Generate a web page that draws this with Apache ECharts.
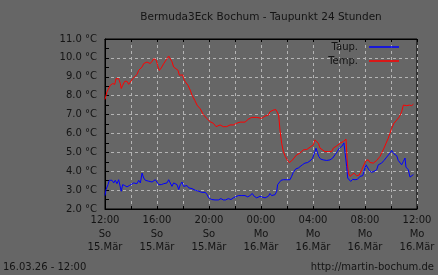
<!DOCTYPE html>
<html>
<head>
<meta charset="utf-8">
<script src="https://cdn.jsdelivr.net/npm/echarts@6/dist/echarts.min.js"></script>
<style>
html,body{margin:0;padding:0;background:#666666;}
#chart{width:438px;height:275px;}
</style>
</head>
<body>
<div id="chart"></div>
<script>
// Hours since 15.Mär 12:00
var tempHours = [0,0.15,0.41,0.59,0.75,0.85,0.92,1.05,1.18,1.25,1.36,1.52,1.69,1.82,1.95,2.13,2.28,2.46,2.59,2.72,2.85,2.98,3.1,3.23,3.36,3.48,3.62,3.75,3.87,3.95,4.08,4.18,4.33,4.52,4.64,4.77,4.9,5.02,5.15,5.28,5.41,5.62,5.72,5.87,5.98,6.05,6.18,6.38,6.56,6.69,6.9,7.08,7.33,7.56,7.82,8.08,8.33,8.54,8.85,9.1,9.36,9.62,9.87,10.13,10.38,10.77,11.02,11.28,11.41,11.67,12.05,12.31,12.56,12.69,12.95,13.15,13.25,13.36,13.46,13.59,13.72,13.87,14.02,14.18,14.36,14.54,14.75,15.0,15.25,15.52,15.77,16.02,16.15,16.28,16.41,16.54,16.67,16.92,17.18,17.44,17.56,17.82,18.08,18.33,18.46,18.54,18.64,18.72,18.85,18.98,19.15,19.36,19.56,19.75,19.92,20.08,20.25,20.38,20.64,20.9,21.15,21.28,21.46,21.62,21.79,21.92,22.05,22.23,22.44,22.64,22.82,22.95,23.08,23.21,23.41,23.59,23.72];
var tempValues = [7.8,8.2,8.55,8.64,8.6,8.9,8.99,8.9,8.64,8.38,8.55,8.76,8.76,8.6,8.7,8.9,8.85,9.12,9.34,9.25,9.52,9.7,9.6,9.78,9.75,9.7,9.82,9.96,10.04,9.87,9.52,9.34,9.47,9.7,9.75,9.96,10.1,10.1,9.8,9.52,9.43,9.34,9.08,9.05,9.1,8.9,8.73,8.55,8.29,8.03,7.76,7.5,7.3,7.0,6.8,6.62,6.54,6.36,6.45,6.36,6.36,6.45,6.45,6.54,6.6,6.6,6.75,6.85,6.92,6.85,6.8,6.92,6.97,7.15,7.24,7.26,7.33,6.97,6.18,5.48,5.04,4.78,4.6,4.46,4.55,4.7,4.87,4.96,5.13,5.15,5.27,5.39,5.66,5.7,5.48,5.22,5.13,5.04,5.04,5.04,5.22,5.34,5.48,5.57,5.66,5.7,4.43,3.9,3.73,3.8,3.9,3.76,3.8,4.08,4.34,4.57,4.6,4.46,4.43,4.57,4.78,4.96,5.22,5.48,5.75,6.01,6.27,6.54,6.71,6.88,7.15,7.5,7.55,7.47,7.5,7.47,7.55];
var dewHours = [0,0.08,0.23,0.33,0.54,0.67,0.79,0.92,1.05,1.18,1.25,1.36,1.52,1.69,1.87,2.02,2.21,2.33,2.46,2.59,2.72,2.85,2.98,3.1,3.23,3.36,3.48,3.62,3.75,3.87,4.0,4.13,4.33,4.52,4.64,4.77,4.9,5.02,5.15,5.28,5.41,5.54,5.67,5.79,5.92,6.05,6.18,6.31,6.44,6.56,6.69,6.82,6.95,7.08,7.21,7.33,7.46,7.59,7.72,7.85,7.98,8.1,8.21,8.46,8.72,8.92,9.1,9.28,9.48,9.69,9.87,10.0,10.25,10.52,10.77,10.98,11.15,11.33,11.48,11.67,11.79,11.92,12.05,12.31,12.56,12.69,12.82,13.08,13.21,13.28,13.38,13.54,13.72,13.98,14.23,14.36,14.48,14.67,14.87,15.0,15.18,15.38,15.59,15.77,15.96,16.15,16.23,16.33,16.44,16.59,16.79,17.05,17.31,17.52,17.69,17.87,18.02,18.21,18.38,18.48,18.59,18.67,18.79,18.9,19.05,19.23,19.41,19.62,19.82,19.92,20.08,20.18,20.33,20.52,20.69,20.9,21.02,21.28,21.46,21.67,21.87,22.05,22.23,22.44,22.56,22.69,22.82,22.95,23.08,23.15,23.25,23.33,23.46,23.59,23.72];
var dewValues = [2.71,3.03,3.29,3.52,3.52,3.38,3.52,3.34,3.55,3.47,2.94,3.29,3.24,3.17,3.24,3.17,3.38,3.47,3.34,3.52,3.38,3.9,3.64,3.52,3.59,3.47,3.55,3.43,3.52,3.55,3.47,3.29,3.29,3.34,3.24,3.38,3.55,3.47,3.2,3.38,3.43,3.29,3.03,3.29,3.43,3.2,3.12,3.24,3.12,3.2,3.08,3.12,2.99,2.94,2.94,2.85,2.88,2.85,2.88,2.76,2.59,2.54,2.5,2.48,2.48,2.55,2.48,2.48,2.55,2.5,2.59,2.67,2.71,2.71,2.71,2.64,2.71,2.82,2.67,2.59,2.64,2.67,2.59,2.59,2.67,2.82,2.71,2.76,2.94,3.29,3.38,3.52,3.55,3.55,3.55,3.73,3.94,4.12,4.17,4.22,4.34,4.43,4.46,4.55,4.67,5.04,5.22,5.13,4.78,4.64,4.6,4.57,4.6,4.7,4.87,5.04,5.22,5.31,5.5,5.5,4.25,3.64,3.55,3.46,3.57,3.55,3.57,3.73,3.76,3.99,4.34,4.25,4.04,3.94,3.99,4.08,4.34,4.43,4.57,4.75,4.92,5.1,4.92,4.82,4.57,4.6,4.34,4.52,4.7,4.22,4.22,4.08,3.69,3.69,3.82];

var tickHours = [0,4,8,12,16,20,24];
var tickTimes = ['12:00','16:00','20:00','00:00','04:00','08:00','12:00'];
var tickDays = ['So','So','So','Mo','Mo','Mo','Mo'];
var tickDates = ['15.Mär','15.Mär','15.Mär','16.Mär','16.Mär','16.Mär','16.Mär'];

function pairs(xs, ys){ return xs.map(function(x,i){ return [x, ys[i]]; }); }

var FONT = 'DejaVu Sans';
var TXT = '#141414';
var chart = echarts.init(document.getElementById('chart'), null, {renderer:'canvas'});
chart.setOption({
  animation:false,
  backgroundColor:'#666666',
  textStyle:{fontFamily:FONT, color:TXT},
  title:[
    {text:'Bermuda3Eck Bochum - Taupunkt 24 Stunden', left:261, top:12, textAlign:'center', padding:0,
     textStyle:{fontFamily:FONT, fontSize:10.5, fontWeight:'normal', color:TXT}},
    {text:'16.03.26 - 12:00', left:3, top:262, padding:0,
     textStyle:{fontFamily:FONT, fontSize:10, fontWeight:'normal', color:TXT}},
    {text:'http://martin-bochum.de', right:4, top:262, padding:0,
     textStyle:{fontFamily:FONT, fontSize:10, fontWeight:'normal', color:TXT}}
  ],
  legend:{
    orient:'vertical', right:34, top:37, align:'right', icon:'rect',
    itemWidth:30, itemHeight:1.5, itemGap:4,
    textStyle:{fontFamily:FONT, fontSize:10, color:TXT, padding:[0,6,0,0]},
    data:['Taup.','Temp.']
  },
  grid:{left:105, right:21, top:39, bottom:66, show:true, borderColor:'#000', borderWidth:1, backgroundColor:'transparent'},
  xAxis:[{
    type:'value', min:0, max:24, interval:2, position:'bottom',
    axisLine:{show:true, lineStyle:{color:'#000', width:1}},
    axisTick:{show:true, inside:true, length:3, lineStyle:{color:'#000'}},
    splitLine:{show:true, lineStyle:{color:'#b4b4b4', type:[3,3], width:1}},
    axisLabel:{
      margin:5, lineHeight:13.5, fontFamily:FONT, fontSize:10, color:TXT,
      showMinLabel:true, showMaxLabel:true,
      formatter:function(v){
        var i = tickHours.indexOf(v);
        if(i<0) return '';
        return tickTimes[i]+'\n'+tickDays[i]+'\n'+tickDates[i];
      }
    }
  },{
    type:'value', min:0, max:24, interval:2, position:'top',
    axisLine:{show:true, lineStyle:{color:'#000', width:1}},
    axisTick:{show:true, inside:true, length:3, lineStyle:{color:'#000'}},
    splitLine:{show:false}, axisLabel:{show:false}
  }],
  yAxis:{
    type:'value', min:2, max:11, interval:1,
    axisLine:{show:true, lineStyle:{color:'#000', width:1}},
    axisTick:{show:true, inside:true, length:4, lineStyle:{color:'#000'}},
    minorTick:{show:true, splitNumber:2, length:4, lineStyle:{color:'#000'}},
    splitLine:{show:true, lineStyle:{color:'#b4b4b4', type:[3,3], width:1}},
    axisLabel:{margin:8, fontFamily:FONT, fontSize:10, color:TXT,
      formatter:function(v){ return v.toFixed(1)+' °C'; }}
  },
  series:[
    {name:'Taup.', type:'line', data:pairs(dewHours, dewValues), showSymbol:false, symbol:'none',
     lineStyle:{color:'#0000ff', width:1}, itemStyle:{color:'#0000ff'}, z:3},
    {name:'Temp.', type:'line', data:pairs(tempHours, tempValues), showSymbol:false, symbol:'none',
     lineStyle:{color:'#ff0000', width:1}, itemStyle:{color:'#ff0000'}, z:2}
  ]
});
</script>
</body>
</html>
